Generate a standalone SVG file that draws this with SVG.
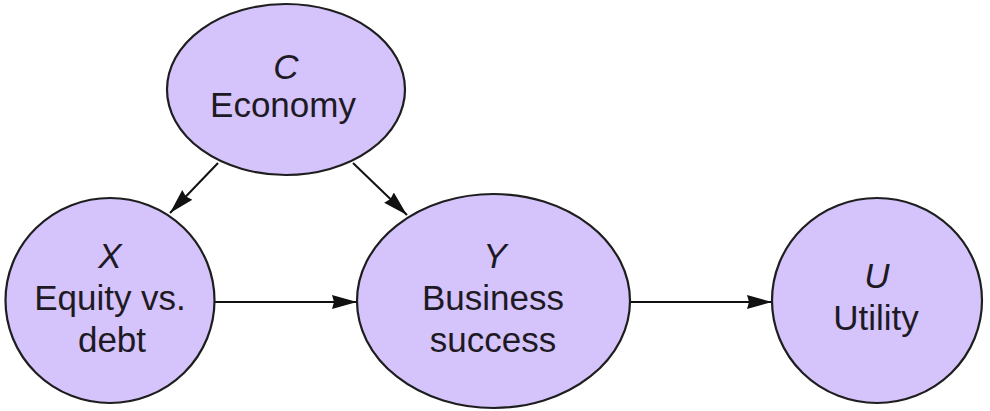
<svg xmlns="http://www.w3.org/2000/svg" width="990" height="411" viewBox="0 0 990 411">
<style>
.node{fill:#d5c3fc;stroke:#1e1e1e;stroke-width:2.2}
.lbl{font-family:"Liberation Sans",Arial,sans-serif;font-size:35px;fill:#1e1a24;text-anchor:middle}
.var{font-style:italic}
.edge{stroke:#111;stroke-width:2;fill:none}
</style>
<defs>
<marker id="ah" markerUnits="userSpaceOnUse" markerWidth="26" markerHeight="16" refX="25" refY="8" orient="auto">
<path d="M0,1 L25,8 L0,15 L2,8 z" fill="#111"/>
</marker>
</defs>
<rect width="990" height="411" fill="#ffffff"/>
<g id="connectors">
<line class="edge" x1="218" y1="163" x2="170" y2="213" marker-end="url(#ah)"/>
<line class="edge" x1="353" y1="163" x2="407" y2="215" marker-end="url(#ah)"/>
<line class="edge" x1="215" y1="302" x2="357" y2="302" marker-end="url(#ah)"/>
<line class="edge" x1="630" y1="302" x2="772" y2="302" marker-end="url(#ah)"/>
</g>
<g id="node-C">
<ellipse class="node" cx="286" cy="89.5" rx="119" ry="85.5"/>
<text class="lbl var" x="286" y="79">C</text>
<text class="lbl" x="283" y="117">Economy</text>
</g>
<g id="node-X">
<ellipse class="node" cx="110" cy="300.5" rx="104.5" ry="102.5"/>
<text class="lbl var" x="110" y="268">X</text>
<text class="lbl" x="110" y="310">Equity vs.</text>
<text class="lbl" x="112" y="352">debt</text>
</g>
<g id="node-Y">
<ellipse class="node" cx="493.5" cy="301" rx="136.5" ry="107"/>
<text class="lbl var" x="495" y="268">Y</text>
<text class="lbl" x="493" y="310">Business</text>
<text class="lbl" x="493" y="352">success</text>
</g>
<g id="node-U">
<ellipse class="node" cx="877" cy="300.5" rx="105" ry="102.5"/>
<text class="lbl var" x="877" y="288">U</text>
<text class="lbl" x="876" y="330">Utility</text>
</g>
</svg>
